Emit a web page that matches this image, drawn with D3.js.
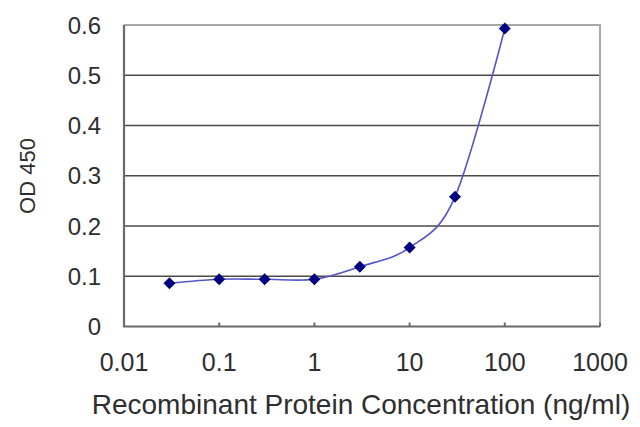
<!DOCTYPE html>
<html>
<head>
<meta charset="utf-8">
<script src="https://cdn.jsdelivr.net/npm/d3@7"></script>
<style>
  body { margin: 0; background: #fff; }
  text { font-family: "Liberation Sans", Arial, sans-serif; fill: #2e2e2e; }
</style>
</head>
<body>
<svg id="chart" width="640" height="427"></svg>
<script>
// data
var concentrations = [0.03, 0.1, 0.3, 1, 3, 10, 30, 100];
var odValues = [0.086, 0.094, 0.094, 0.094, 0.119, 0.157, 0.258, 0.593];
var xTicks = [0.01, 0.1, 1, 10, 100, 1000];
var yTicks = [0, 0.1, 0.2, 0.3, 0.4, 0.5, 0.6];

var svg = d3.select("#chart");
var plotLeft = 124, plotRight = 600, plotTop = 25, plotBottom = 326.5;

var x = d3.scaleLog().domain([0.01, 1000]).range([plotLeft, plotRight]);
var y = d3.scaleLinear().domain([0, 0.6]).range([plotBottom, plotTop]);

// gridlines
svg.append("g")
  .selectAll("line")
  .data(yTicks.slice(1, -1))
  .enter()
  .append("line")
  .attr("x1", plotLeft)
  .attr("x2", plotRight)
  .attr("y1", function(d) { return y(d); })
  .attr("y2", function(d) { return y(d); })
  .attr("stroke", "#4a4a4a")
  .attr("stroke-width", 1.6);

// top + right frame (lighter)
svg.append("path")
  .attr("d", "M" + plotLeft + "," + y(0.6) + "H" + plotRight + "V" + plotBottom)
  .attr("fill", "none")
  .attr("stroke", "#a8a8a8")
  .attr("stroke-width", 2);

// left + bottom axes
svg.append("path")
  .attr("d", "M" + plotLeft + "," + y(0.6) + "V" + plotBottom + "H" + plotRight)
  .attr("fill", "none")
  .attr("stroke", "#6a6a6a")
  .attr("stroke-width", 2.2);

// small inner ticks on the x axis
svg.append("g")
  .selectAll("line")
  .data(xTicks)
  .enter()
  .append("line")
  .attr("x1", function(d) { return x(d); })
  .attr("x2", function(d) { return x(d); })
  .attr("y1", plotBottom)
  .attr("y2", plotBottom - 4)
  .attr("stroke", "#6a6a6a")
  .attr("stroke-width", 2);

// tick labels
svg.append("g")
  .selectAll("text")
  .data(yTicks)
  .enter()
  .append("text")
  .attr("x", 101)
  .attr("y", function(d) { return y(d); })
  .attr("dy", "0.36em")
  .attr("text-anchor", "end")
  .style("font-size", "24px")
  .text(function(d) { return d === 0 ? "0" : d3.format(".1f")(d); });

svg.append("g")
  .selectAll("text")
  .data(xTicks)
  .enter()
  .append("text")
  .attr("x", function(d) { return x(d); })
  .attr("y", 371)
  .attr("text-anchor", "middle")
  .style("font-size", "25px")
  .text(function(d) { return String(d); });

// axis titles
svg.append("text")
  .attr("transform", "translate(35,176) rotate(-90)")
  .attr("text-anchor", "middle")
  .style("font-size", "22px")
  .text("OD 450");

svg.append("text")
  .attr("x", 361)
  .attr("y", 414)
  .attr("text-anchor", "middle")
  .style("font-size", "28px")
  .text("Recombinant Protein Concentration (ng/ml)");

// smoothed curve
var pts = concentrations.map(function(c, i) { return [x(c), y(odValues[i])]; });
svg.append("path")
  .attr("d", d3.line().curve(d3.curveCardinal.tension(0))(pts))
  .attr("fill", "none")
  .attr("stroke", "#5555c8")
  .attr("stroke-width", 1.6);

// diamond markers
svg.append("g")
  .selectAll("path")
  .data(pts)
  .enter()
  .append("path")
  .attr("transform", function(d) { return "translate(" + d[0] + "," + d[1] + ")"; })
  .attr("d", "M0,-6L6,0L0,6L-6,0Z")
  .attr("fill", "#000080");
</script>
</body>
</html>
